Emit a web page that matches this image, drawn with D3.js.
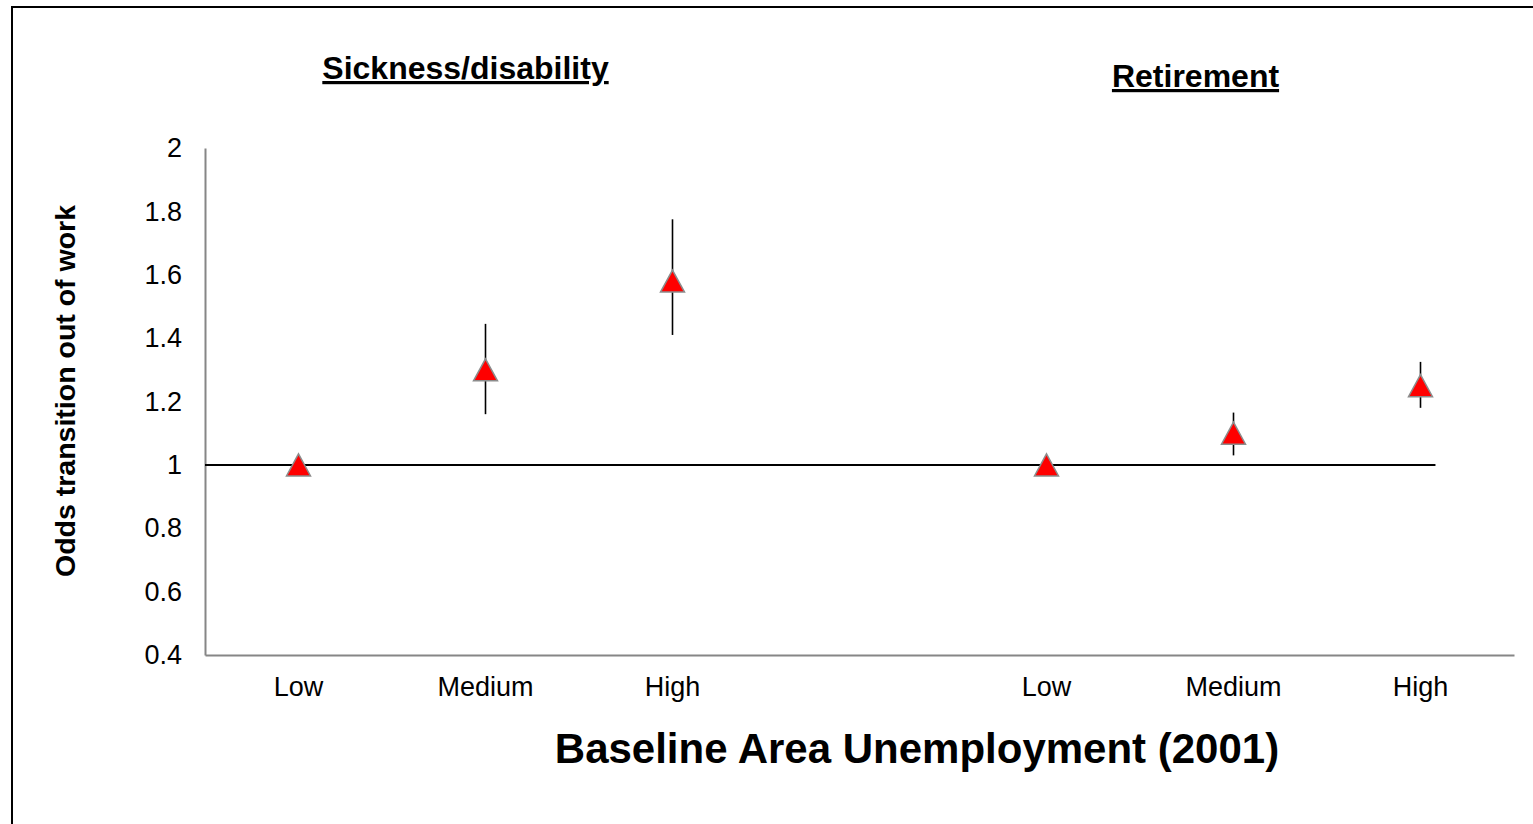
<!DOCTYPE html>
<html>
<head>
<meta charset="utf-8">
<script src="https://cdn.jsdelivr.net/npm/d3@7"></script>
<style>
  html, body { margin: 0; padding: 0; background: #ffffff; }
  svg { display: block; font-family: "Liberation Sans", Arial, sans-serif; }
</style>
</head>
<body>
<svg id="chart" width="1533" height="824"></svg>
<script>
// Outcome panels and unemployment levels
const panels = ["Sickness/disability", "Retirement"];
const levels = ["Low", "Medium", "High"];

// Odds ratios with 95% confidence limits, Low is the reference level
const sicknessOdds  = [1.00, 1.30, 1.58];
const sicknessLower = [1.00, 1.16, 1.41];
const sicknessUpper = [1.00, 1.445, 1.775];

const retirementOdds  = [1.00, 1.10, 1.25];
const retirementLower = [1.00, 1.03, 1.18];
const retirementUpper = [1.00, 1.165, 1.325];

const yTicks = [0.4, 0.6, 0.8, 1, 1.2, 1.4, 1.6, 1.8, 2];
const referenceOdds = 1;

const axisTitleY = "Odds transition out of work";
const axisTitleX = "Baseline Area Unemployment (2001)";

// Slots along the category axis: three levels, an empty gap, three levels
const slots = [
  ...levels.map((l, i) => ({ key: "s" + i, label: l, odds: sicknessOdds[i], lo: sicknessLower[i], hi: sicknessUpper[i] })),
  { key: "gap", label: "", odds: null },
  ...levels.map((l, i) => ({ key: "r" + i, label: l, odds: retirementOdds[i], lo: retirementLower[i], hi: retirementUpper[i] }))
];

const svg = d3.select("#chart");

// Outer chart frame
svg.append("rect")
  .attr("x", 12).attr("y", 7)
  .attr("width", 1540).attr("height", 840)
  .attr("fill", "none").attr("stroke", "#000").attr("stroke-width", 2);

const plot = { left: 205, right: 1514, top: 148, bottom: 655 };

const x = d3.scaleBand()
  .domain(slots.map(d => d.key))
  .range([plot.left, plot.right])
  .paddingInner(0).paddingOuter(0);

const y = d3.scaleLinear()
  .domain([0.4, 2])
  .range([plot.bottom, plot.top]);

const cx = k => x(k) + x.bandwidth() / 2;

// Y axis
const yAxis = svg.append("g")
  .attr("transform", `translate(${plot.left},0)`)
  .call(d3.axisLeft(y).tickValues(yTicks).tickSize(0).tickPadding(23).tickFormat(d3.format("~g")));
yAxis.select(".domain").attr("stroke", "#868686").attr("stroke-width", 2);
yAxis.selectAll("text")
  .attr("font-size", 27).attr("fill", "#000")
  .attr("font-family", "Liberation Sans, Arial, sans-serif");

// X axis
const xAxis = svg.append("g")
  .attr("transform", `translate(0,${plot.bottom})`)
  .call(d3.axisBottom(x).tickSize(0).tickPadding(22).tickFormat(k => slots.find(s => s.key === k).label));
xAxis.select(".domain").attr("stroke", "#868686").attr("stroke-width", 2);
xAxis.selectAll("text")
  .attr("font-size", 27).attr("fill", "#000")
  .attr("font-family", "Liberation Sans, Arial, sans-serif");

// Reference line at odds = 1
svg.append("line")
  .attr("x1", plot.left)
  .attr("x2", cx("r2") + x.bandwidth() * 0.08)
  .attr("y1", y(referenceOdds)).attr("y2", y(referenceOdds))
  .attr("stroke", "#000").attr("stroke-width", 2);

const points = slots.filter(d => d.odds !== null);

// Confidence interval bars
svg.append("g").selectAll("line")
  .data(points.filter(d => d.hi > d.lo))
  .join("line")
  .attr("x1", d => cx(d.key)).attr("x2", d => cx(d.key))
  .attr("y1", d => y(d.hi)).attr("y2", d => y(d.lo))
  .attr("stroke", "#000").attr("stroke-width", 1.6);

// Triangle markers centred on their bounding box
const triW = 24, triH = 22;
const triangle = `M0,${-triH / 2}L${triW / 2},${triH / 2}L${-triW / 2},${triH / 2}Z`;
svg.append("g").selectAll("path")
  .data(points)
  .join("path")
  .attr("d", triangle)
  .attr("transform", d => `translate(${cx(d.key)},${y(d.odds)})`)
  .attr("fill", "#ff0000")
  .attr("stroke", "#8c8c8c")
  .attr("stroke-width", 1.5);

// Panel titles
svg.append("text")
  .attr("x", (cx("s0") + cx("s2")) / 2 - 20).attr("y", 79)
  .attr("text-anchor", "middle")
  .attr("font-size", 32).attr("font-weight", "bold")
  .attr("text-decoration", "underline")
  .text(panels[0]);

svg.append("text")
  .attr("x", cx("r1") - 38).attr("y", 87)
  .attr("text-anchor", "middle")
  .attr("font-size", 32).attr("font-weight", "bold")
  .attr("text-decoration", "underline")
  .text(panels[1]);

// Axis titles
svg.append("text")
  .attr("transform", `translate(75,391) rotate(-90)`)
  .attr("text-anchor", "middle")
  .attr("font-size", 28.5).attr("font-weight", "bold")
  .text(axisTitleY);

svg.append("text")
  .attr("x", 917).attr("y", 763)
  .attr("text-anchor", "middle")
  .attr("font-size", 42).attr("font-weight", "bold")
  .text(axisTitleX);
</script>
</body>
</html>
